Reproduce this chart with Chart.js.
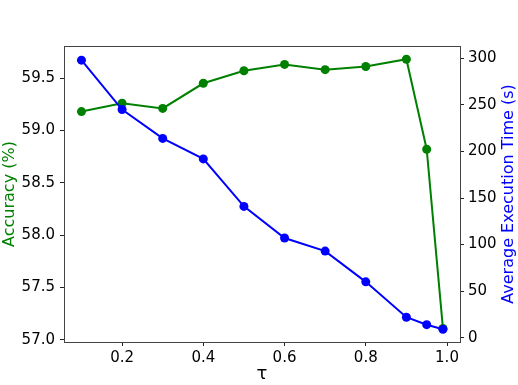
<!DOCTYPE html>
<html>
<head>
<meta charset="utf-8">
<script src="https://cdn.jsdelivr.net/npm/chart.js@4/dist/chart.umd.min.js"></script>
<style>
  html, body { margin: 0; padding: 0; background: #fff; }
  #wrap { width: 518px; height: 385px; }
</style>
</head>
<body>
<div id="wrap"><canvas id="myChart" width="518" height="385"></canvas></div>
<script>
var tau = [0.1, 0.2, 0.3, 0.4, 0.5, 0.6, 0.7, 0.8, 0.9, 0.95, 0.99];
var accuracy = [59.18, 59.26, 59.21, 59.45, 59.57, 59.63, 59.58, 59.61, 59.68, 58.82, 57.11];
var execTime = [298, 245, 214, 192, 141, 107, 93, 60, 22, 14, 9];

var xTicks = [0.2, 0.4, 0.6, 0.8, 1.0];
var accTicks = [57.0, 57.5, 58.0, 58.5, 59.0, 59.5];
var timeTicks = [0, 50, 100, 150, 200, 250, 300];

var rightTitle = 'Average Execution Time (s)';

function pts(ys) {
  var out = [];
  for (var i = 0; i < tau.length; i++) out.push({x: tau[i], y: ys[i]});
  return out;
}
function fixTicks(list) {
  return function(axis) { axis.ticks = list.map(function(v) { return {value: v}; }); };
}

var font = {family: 'DejaVu Sans', size: 15};

// top edge of the box + right label reading bottom-to-top (matplotlib style)
var frameExtras = {
  id: 'frameExtras',
  afterDraw: function(chart) {
    var a = chart.chartArea, c = chart.ctx;
    c.save();
    c.strokeStyle = '#444';
    c.lineWidth = 1;
    c.beginPath();
    c.moveTo(a.left, a.top + 0.5);
    c.lineTo(a.right, a.top + 0.5);
    c.stroke();

    var s = chart.scales.yTime;
    c.translate(s.right - 9, (a.top + a.bottom) / 2);
    c.rotate(-Math.PI / 2);
    c.fillStyle = '#0000ff';
    c.font = '16px "DejaVu Sans"';
    c.textAlign = 'center';
    c.textBaseline = 'middle';
    c.fillText(rightTitle, 0, 0);
    c.restore();
  }
};

new Chart(document.getElementById('myChart'), {
  type: 'line',
  data: {
    datasets: [
      {
        label: rightTitle,
        data: pts(execTime),
        yAxisID: 'yTime',
        borderColor: '#0000ff',
        backgroundColor: '#0000ff',
        borderWidth: 2,
        pointRadius: 4.5,
        pointBorderWidth: 0,
        order: 0
      },
      {
        label: 'Accuracy (%)',
        data: pts(accuracy),
        yAxisID: 'yAcc',
        borderColor: '#008000',
        backgroundColor: '#008000',
        borderWidth: 2,
        pointRadius: 4.5,
        pointBorderWidth: 0,
        order: 1
      }
    ]
  },
  options: {
    responsive: false,
    animation: false,
    layout: {padding: {top: 46, left: 0, right: 0, bottom: 0}},
    plugins: {legend: {display: false}, tooltip: {enabled: false}},
    scales: {
      x: {
        type: 'linear',
        min: 0.057,
        max: 1.032,
        afterBuildTicks: fixTicks(xTicks),
        afterFit: function(s) { s.height = 43; },
        border: {display: true, color: '#444', width: 1},
        grid: {display: true, drawOnChartArea: false, drawTicks: true, tickLength: 4, color: '#222'},
        ticks: {font: font, color: '#000', padding: 3, maxRotation: 0,
          callback: function(v) { return v.toFixed(1); }},
        title: {display: true, text: 'τ', font: {family: 'DejaVu Sans', size: 18}, color: '#000',
          padding: {top: 0, bottom: 0}}
      },
      yAcc: {
        type: 'linear',
        position: 'left',
        min: 56.98,
        max: 59.806,
        afterBuildTicks: fixTicks(accTicks),
        afterFit: function(s) { s.width = 64; },
        border: {display: true, color: '#444', width: 1},
        grid: {display: true, drawOnChartArea: false, drawTicks: true, tickLength: 4, color: '#222'},
        ticks: {font: font, color: '#000', padding: 5,
          callback: function(v) { return v.toFixed(1); }},
        title: {display: true, text: 'Accuracy (%)', font: {family: 'DejaVu Sans', size: 16}, color: '#008000',
          padding: {top: 0, bottom: 0}}
      },
      yTime: {
        type: 'linear',
        position: 'right',
        min: -4.6,
        max: 313.2,
        afterBuildTicks: fixTicks(timeTicks),
        afterFit: function(s) { s.width = 58; },
        border: {display: true, color: '#444', width: 1},
        grid: {display: true, drawOnChartArea: false, drawTicks: true, tickLength: 4, color: '#222'},
        ticks: {font: font, color: '#000', padding: 4,
          callback: function(v) { return String(v); }},
        title: {display: false}
      }
    }
  },
  plugins: [frameExtras]
});
</script>
</body>
</html>
